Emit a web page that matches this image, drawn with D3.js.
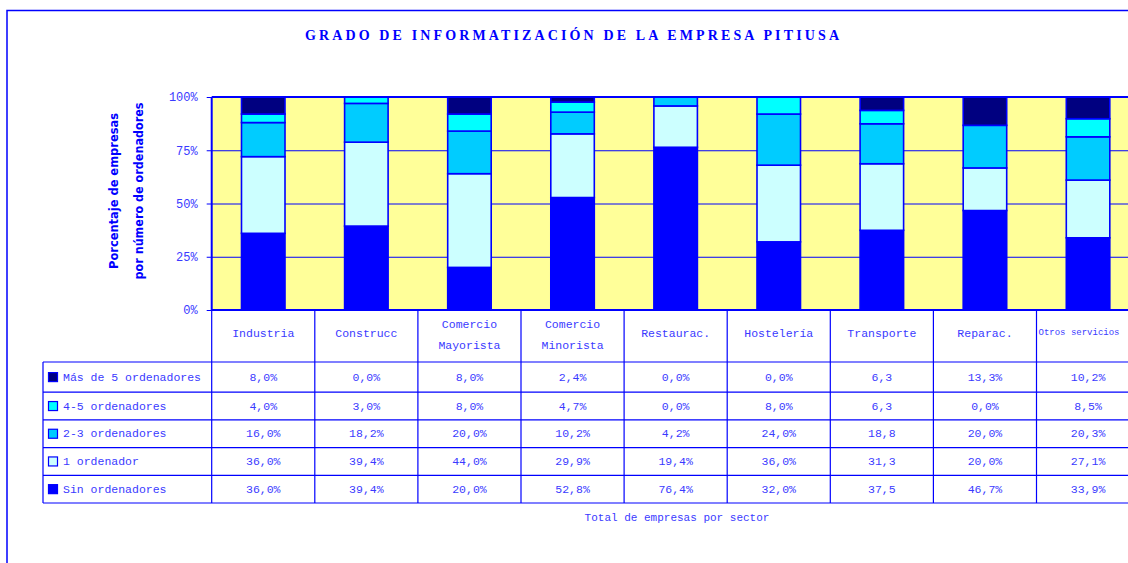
<!DOCTYPE html>
<html><head><meta charset="utf-8">
<script src="https://cdn.jsdelivr.net/npm/d3@7"></script>
<style>html,body{margin:0;padding:0;background:#fff;overflow:hidden}svg{display:block}</style>
</head><body>
<svg id="chart" width="1128" height="563"></svg>
<script>
// ---- data ----
const titleText = "GRADO DE INFORMATIZACIÓN DE LA EMPRESA PITIUSA";
const yTitleLines = ["Porcentaje de empresas", "por número de ordenadores"];
const noteText = "Total de empresas por sector";
const categories = ["Industria", "Construcc", "Comercio\nMayorista", "Comercio\nMinorista", "Restaurac.", "Hostelería", "Transporte", "Reparac.", "Otros servicios"];
const seriesNames = ["Sin ordenadores", "1 ordenador", "2-3 ordenadores", "4-5 ordenadores", "Más de 5 ordenadores"];
const sinOrdenadores = [36.0, 39.4, 20.0, 52.8, 76.4, 32.0, 37.5, 46.7, 33.9];
const unOrdenador    = [36.0, 39.4, 44.0, 29.9, 19.4, 36.0, 31.3, 20.0, 27.1];
const dosTres        = [16.0, 18.2, 20.0, 10.2,  4.2, 24.0, 18.8, 20.0, 20.3];
const cuatroCinco    = [ 4.0,  3.0,  8.0,  4.7,  0.0,  8.0,  6.3,  0.0,  8.5];
const masDeCinco     = [ 8.0,  0.0,  8.0,  2.4,  0.0,  0.0,  6.3, 13.3, 10.2];
const showPercent    = [true, true, true, true, true, true, false, true, true];
const yTickValues = [0, 0.25, 0.5, 0.75, 1];
const yTickLabels = ["0%", "25%", "50%", "75%", "100%"];
const seriesColors = ["#0000FF", "#CCFFFF", "#00CCFF", "#00FFFF", "#000080"];

// ---- build ----
const seriesValues = [sinOrdenadores, unOrdenador, dosTres, cuatroCinco, masDeCinco];
const rows = categories.map((c, i) => {
  const o = {cat: c};
  seriesNames.forEach((s, j) => o[s] = seriesValues[j][i]);
  return o;
});

const BLUE = "#0000FF", TXT = "#3a3aff";
const MONO = "'Liberation Mono', 'DejaVu Sans Mono', monospace";
const W = 1128;
const svg = d3.select("#chart");

const plotL = 211.7, step = 103.1, plotT = 97, plotB = 310;
const plotR = plotL + step * categories.length;
const inner = 0.578;

const x = d3.scaleBand().domain(categories).range([plotL, plotR]).paddingInner(inner).paddingOuter(inner / 2);
const xCol = d3.scaleBand().domain(categories).range([plotL, plotR]).padding(0);
const y = d3.scaleLinear().domain([0, 1]).range([plotB, plotT]);

// outer frame
svg.append("rect").attr("x", 7).attr("y", 10.5).attr("width", 1400).attr("height", 900)
  .attr("fill", "none").attr("stroke", BLUE).attr("stroke-width", 1.5);

// title
svg.append("text").attr("x", 572).attr("y", 40).attr("text-anchor", "middle")
  .attr("font-family", "'Liberation Serif', serif").attr("font-weight", "bold").attr("font-size", 14)
  .attr("fill", BLUE).attr("textLength", 534).attr("lengthAdjust", "spacing").text(titleText);

// plot background
svg.append("rect").attr("x", plotL).attr("y", plotT).attr("width", plotR - plotL).attr("height", plotB - plotT)
  .attr("fill", "#FFFF99");

// gridlines
svg.append("g").attr("transform", `translate(${plotL},0)`)
  .call(d3.axisLeft(y).tickValues(yTickValues).tickSize(-(plotR - plotL)).tickFormat(""))
  .call(g => g.select(".domain").remove())
  .call(g => g.selectAll("line").attr("stroke", BLUE).attr("stroke-width", 1));

// y axis labels
svg.append("g").attr("transform", `translate(${plotL},0)`)
  .call(d3.axisLeft(y).tickValues(yTickValues).tickFormat((d, i) => yTickLabels[i]).tickSize(5).tickPadding(9))
  .call(g => g.select(".domain").remove())
  .call(g => g.selectAll("line").attr("stroke", BLUE))
  .call(g => g.selectAll("text").attr("fill", TXT).attr("font-family", MONO).attr("font-size", 12));

// stacked bars
const stack = d3.stack().keys(seriesNames).offset(d3.stackOffsetExpand);
const stacked = stack(rows);
svg.append("g").selectAll("g").data(stacked).join("g")
  .attr("fill", (d, i) => seriesColors[i])
  .selectAll("rect").data(d => d).join("rect")
  .attr("x", d => x(d.data.cat)).attr("width", x.bandwidth())
  .attr("y", d => y(d[1])).attr("height", d => y(d[0]) - y(d[1]))
  .attr("stroke", BLUE).attr("stroke-width", 1.6);

// plot frame
svg.append("line").attr("x1", plotL).attr("x2", plotR).attr("y1", plotT).attr("y2", plotT).attr("stroke", BLUE).attr("stroke-width", 2.2);
svg.append("line").attr("x1", plotL).attr("x2", plotL).attr("y1", plotT).attr("y2", plotB).attr("stroke", BLUE).attr("stroke-width", 2);
svg.append("line").attr("x1", plotL).attr("x2", plotR).attr("y1", plotB).attr("y2", plotB).attr("stroke", BLUE).attr("stroke-width", 2);

// y title
yTitleLines.forEach((t, i) => {
  const cx = [114, 139][i];
  svg.append("text").attr("transform", `translate(${cx},191) rotate(-90)`)
    .attr("text-anchor", "middle").attr("dominant-baseline", "central")
    .attr("font-family", "'DejaVu Sans', sans-serif").attr("font-weight", "bold").attr("font-size", 11.5)
    .attr("fill", BLUE).attr("textLength", [156, 177][i]).attr("lengthAdjust", "spacingAndGlyphs").text(t);
});

// data table
const legendL = 43, tableT = 362, tableB = 503;
const rowOrder = seriesNames.slice().reverse();
const rowScale = d3.scaleBand().domain(rowOrder).range([tableT + 2.5, tableB]);
const tbl = svg.append("g");

// horizontal lines
[tableT, ...rowOrder.map(r => rowScale(r) + rowScale.bandwidth())].forEach(yy => {
  tbl.append("line").attr("x1", legendL).attr("x2", plotR).attr("y1", yy).attr("y2", yy)
    .attr("stroke", BLUE).attr("stroke-width", 1.2);
});
// vertical lines
categories.forEach(c => {
  tbl.append("line").attr("x1", xCol(c)).attr("x2", xCol(c)).attr("y1", plotB).attr("y2", tableB)
    .attr("stroke", BLUE).attr("stroke-width", 1.2);
});
tbl.append("line").attr("x1", legendL).attr("x2", legendL).attr("y1", tableT).attr("y2", tableB)
  .attr("stroke", BLUE).attr("stroke-width", 1.2);

// header labels
categories.forEach(c => {
  const lines = c.split("\n");
  const cx = xCol(c) + xCol.bandwidth() / 2;
  const ys = lines.length === 1 ? [333] : [324, 345.5];
  lines.forEach((ln, k) => {
    const t = tbl.append("text").attr("x", cx).attr("y", ys[k]).attr("text-anchor", "middle")
      .attr("dominant-baseline", "central").attr("font-family", MONO).attr("font-size", 11.5)
      .attr("fill", TXT).text(ln);
    const w = t.node().getComputedTextLength();
    if (cx + w / 2 > W - 6) {
      // keep it inside the picture: start at the column's left and shrink to fit
      const avail = W - 8 - (xCol(c) + 2);
      t.attr("text-anchor", "start").attr("x", xCol(c) + 2)
        .attr("font-size", Math.floor(11.5 * avail / w * 10) / 10);
    }
  });
});

// legend keys + values
const fmt = d3.format(".1f");
rowOrder.forEach((s, ri) => {
  const si = seriesNames.indexOf(s);
  const top = ri === 0 ? tableT : rowScale(s);
  const cy = (top + rowScale(s) + rowScale.bandwidth()) / 2;
  tbl.append("rect").attr("x", 48.5).attr("y", cy - 4.5).attr("width", 9).attr("height", 9)
    .attr("fill", seriesColors[si]).attr("stroke", BLUE).attr("stroke-width", 1.2);
  tbl.append("text").attr("x", 63).attr("y", cy).attr("dominant-baseline", "central")
    .attr("font-family", MONO).attr("font-size", 11.5).attr("fill", TXT).text(s);
  categories.forEach((c, ci) => {
    const v = seriesValues[si][ci];
    const label = fmt(v).replace(".", ",") + (showPercent[ci] ? "%" : "");
    tbl.append("text").attr("x", xCol(c) + xCol.bandwidth() / 2).attr("y", cy)
      .attr("text-anchor", "middle").attr("dominant-baseline", "central")
      .attr("font-family", MONO).attr("font-size", 11.5).attr("fill", TXT).text(label);
  });
});

// note
svg.append("text").attr("x", 677).attr("y", 518).attr("text-anchor", "middle").attr("dominant-baseline", "central")
  .attr("font-family", MONO).attr("font-size", 11).attr("fill", TXT).text(noteText);
</script>
</body></html>
